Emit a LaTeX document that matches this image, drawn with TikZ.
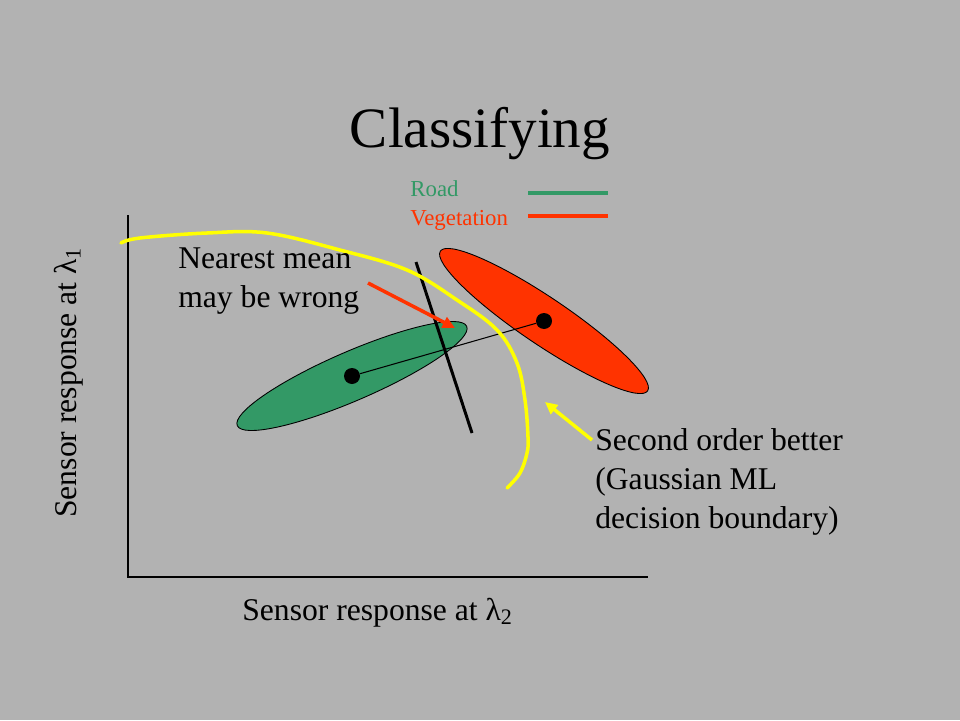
\documentclass[tikz,border=0pt]{standalone}
\usepackage{fontspec}
\setmainfont{Liberation Serif}
\usetikzlibrary{arrows.meta}

\begin{document}
\begin{tikzpicture}[x=0.02cm,y=-0.02cm,
  titleText/.style={font=\fontsize{32.5}{36}\selectfont, inner sep=0pt},
  labelText/.style={font=\fontsize{18}{22}\selectfont, inner sep=0pt, align=left},
  legendText/.style={font=\fontsize{13}{15}\selectfont, inner sep=0pt},
  meanDot/.style={circle, fill=black, minimum size=0.32cm, inner sep=0pt},
  pointer/.style={line width=2pt, -{Triangle[length=7pt, width=6.5pt]}}]
% Colors
\definecolor{backColor}{RGB}{178,178,178}
\definecolor{roadColor}{RGB}{51,153,102}
\definecolor{vegColor}{RGB}{255,51,0}
\definecolor{curveColor}{RGB}{255,255,0}
% Background
\fill[backColor] (0,0) rectangle (960,720);
\useasboundingbox (0,0) rectangle (960,720);
% Title and legend
\node[titleText, anchor=base] (title) at (480,147) {Classifying};
\node[legendText, text=roadColor, anchor=base west] (road) at (410,196) {Road};
\node[legendText, text=vegColor, anchor=base west] (vegetation) at (410,225) {Vegetation};
\draw[roadColor, line width=2.2pt] (528,193) -- (608,193);
\draw[vegColor, line width=2.2pt] (528,216) -- (608,216);
% Axes
\draw[line width=0.6pt] (128,215) -- (128,577) -- (648,577);
\node[labelText, rotate=90, anchor=base west] (ylabel) at (76,518)
  {Sensor response at λ\textsubscript{1}};
\node[labelText, anchor=base west] (xlabel) at (242,620)
  {Sensor response at λ\textsubscript{2}};
% Class ellipses
\draw[fill=roadColor, line width=0.5pt, rotate around={23.4:(352,376)}]
  (352,376) ellipse [x radius=125, y radius=24.5];
\draw[fill=vegColor, line width=0.5pt, rotate around={-34:(544,321)}]
  (544,321) ellipse [x radius=125, y radius=23.5];
% Means
\node[meanDot] (roadMean) at (352,376) {};
\node[meanDot] (vegMean) at (544,321) {};
\draw[line width=0.6pt] (roadMean) -- (vegMean);
% Nearest mean boundary
\coordinate (lineTop) at (416,262);
\coordinate (lineBottom) at (472,433);
\draw[line width=1.7pt] (lineTop) -- (lineBottom);
% Gaussian ML boundary
\draw[curveColor, line width=2pt, line cap=round] plot[smooth, tension=0.6] coordinates {
  (121,243) (140,238) (207,233) (267,233) (340,250) (407,270) (457,300)
  (497,330) (517,363) (525,400) (528,437) (527,453) (520,473) (507,488)};
% Notes
\node[labelText, anchor=base west] (nearest) at (178,307)
  {Nearest mean\\may be wrong};
\coordinate (nearestTail) at (368,283);
\coordinate (nearestTip) at (455,328);
\draw[pointer, vegColor] (nearestTail) -- (nearestTip);
\node[labelText, anchor=base west] (second) at (595,528)
  {Second order better\\(Gaussian ML\\decision boundary)};
\coordinate (secondTail) at (592,440);
\coordinate (secondTip) at (545,402);
\draw[pointer, curveColor] (secondTail) -- (secondTip);
\end{tikzpicture}
\end{document}
